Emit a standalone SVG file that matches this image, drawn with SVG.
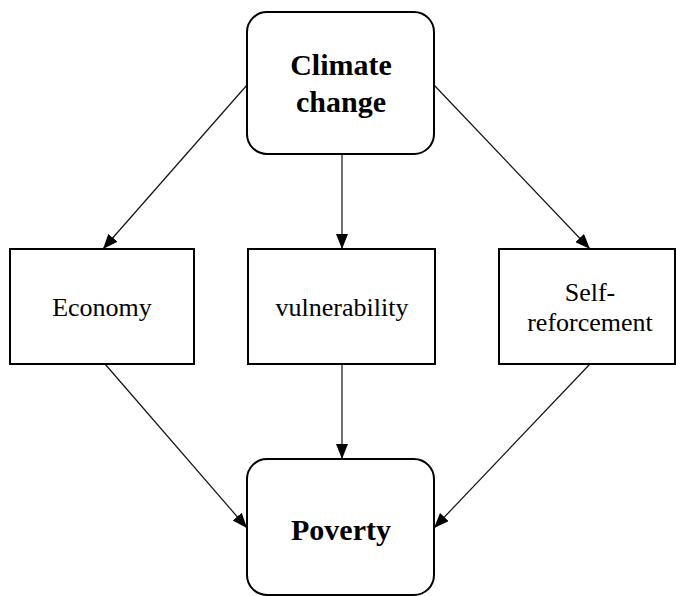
<svg xmlns="http://www.w3.org/2000/svg" width="676" height="596" viewBox="0 0 676 596">
  <style>
    .box { fill: #ffffff; stroke: #000000; stroke-width: 2; }
    text { font-family: "Liberation Serif", "Times New Roman", serif; fill: #000000; text-anchor: middle; }
    .label { font-size: 26px; }
    .title { font-size: 30px; font-weight: bold; }
    .edge { stroke: #111111; stroke-width: 1.2; fill: none; marker-end: url(#arrow); }
  </style>
  <defs>
    <marker id="arrow" markerUnits="userSpaceOnUse" markerWidth="15" markerHeight="12" refX="15" refY="6" orient="auto">
      <path d="M0,0 L15,6 L0,12 z" fill="#000000"/>
    </marker>
  </defs>
  <rect width="676" height="596" fill="#ffffff"/>

  <!-- causal links -->
  <g id="connectors">
    <line class="edge" x1="247" y1="85" x2="103" y2="249"/>
    <line class="edge" x1="342" y1="154" x2="342" y2="249"/>
    <line class="edge" x1="434" y1="85" x2="590" y2="249"/>
    <line class="edge" x1="105" y1="364" x2="247" y2="528"/>
    <line class="edge" x1="342" y1="364" x2="342" y2="459"/>
    <line class="edge" x1="590" y1="364" x2="434" y2="528"/>
  </g>

  <g id="climate-change">
    <rect class="box" x="247" y="12" width="187" height="142" rx="20" ry="20"/>
    <text class="title" x="341" y="75">Climate</text>
    <text class="title" x="341" y="112">change</text>
  </g>

  <g id="economy">
    <rect class="box" x="10" y="249" width="184" height="115"/>
    <text class="label" x="102" y="316">Economy</text>
  </g>

  <g id="vulnerability">
    <rect class="box" x="248" y="249" width="187" height="115"/>
    <text class="label" x="342" y="316">vulnerability</text>
  </g>

  <g id="self-reforcement">
    <rect class="box" x="499" y="249" width="176" height="115"/>
    <text class="label" x="590" y="301">Self-</text>
    <text class="label" x="590" y="331">reforcement</text>
  </g>

  <g id="poverty">
    <rect class="box" x="247" y="459" width="187" height="136" rx="20" ry="20"/>
    <text class="title" x="341" y="540">Poverty</text>
  </g>
</svg>
